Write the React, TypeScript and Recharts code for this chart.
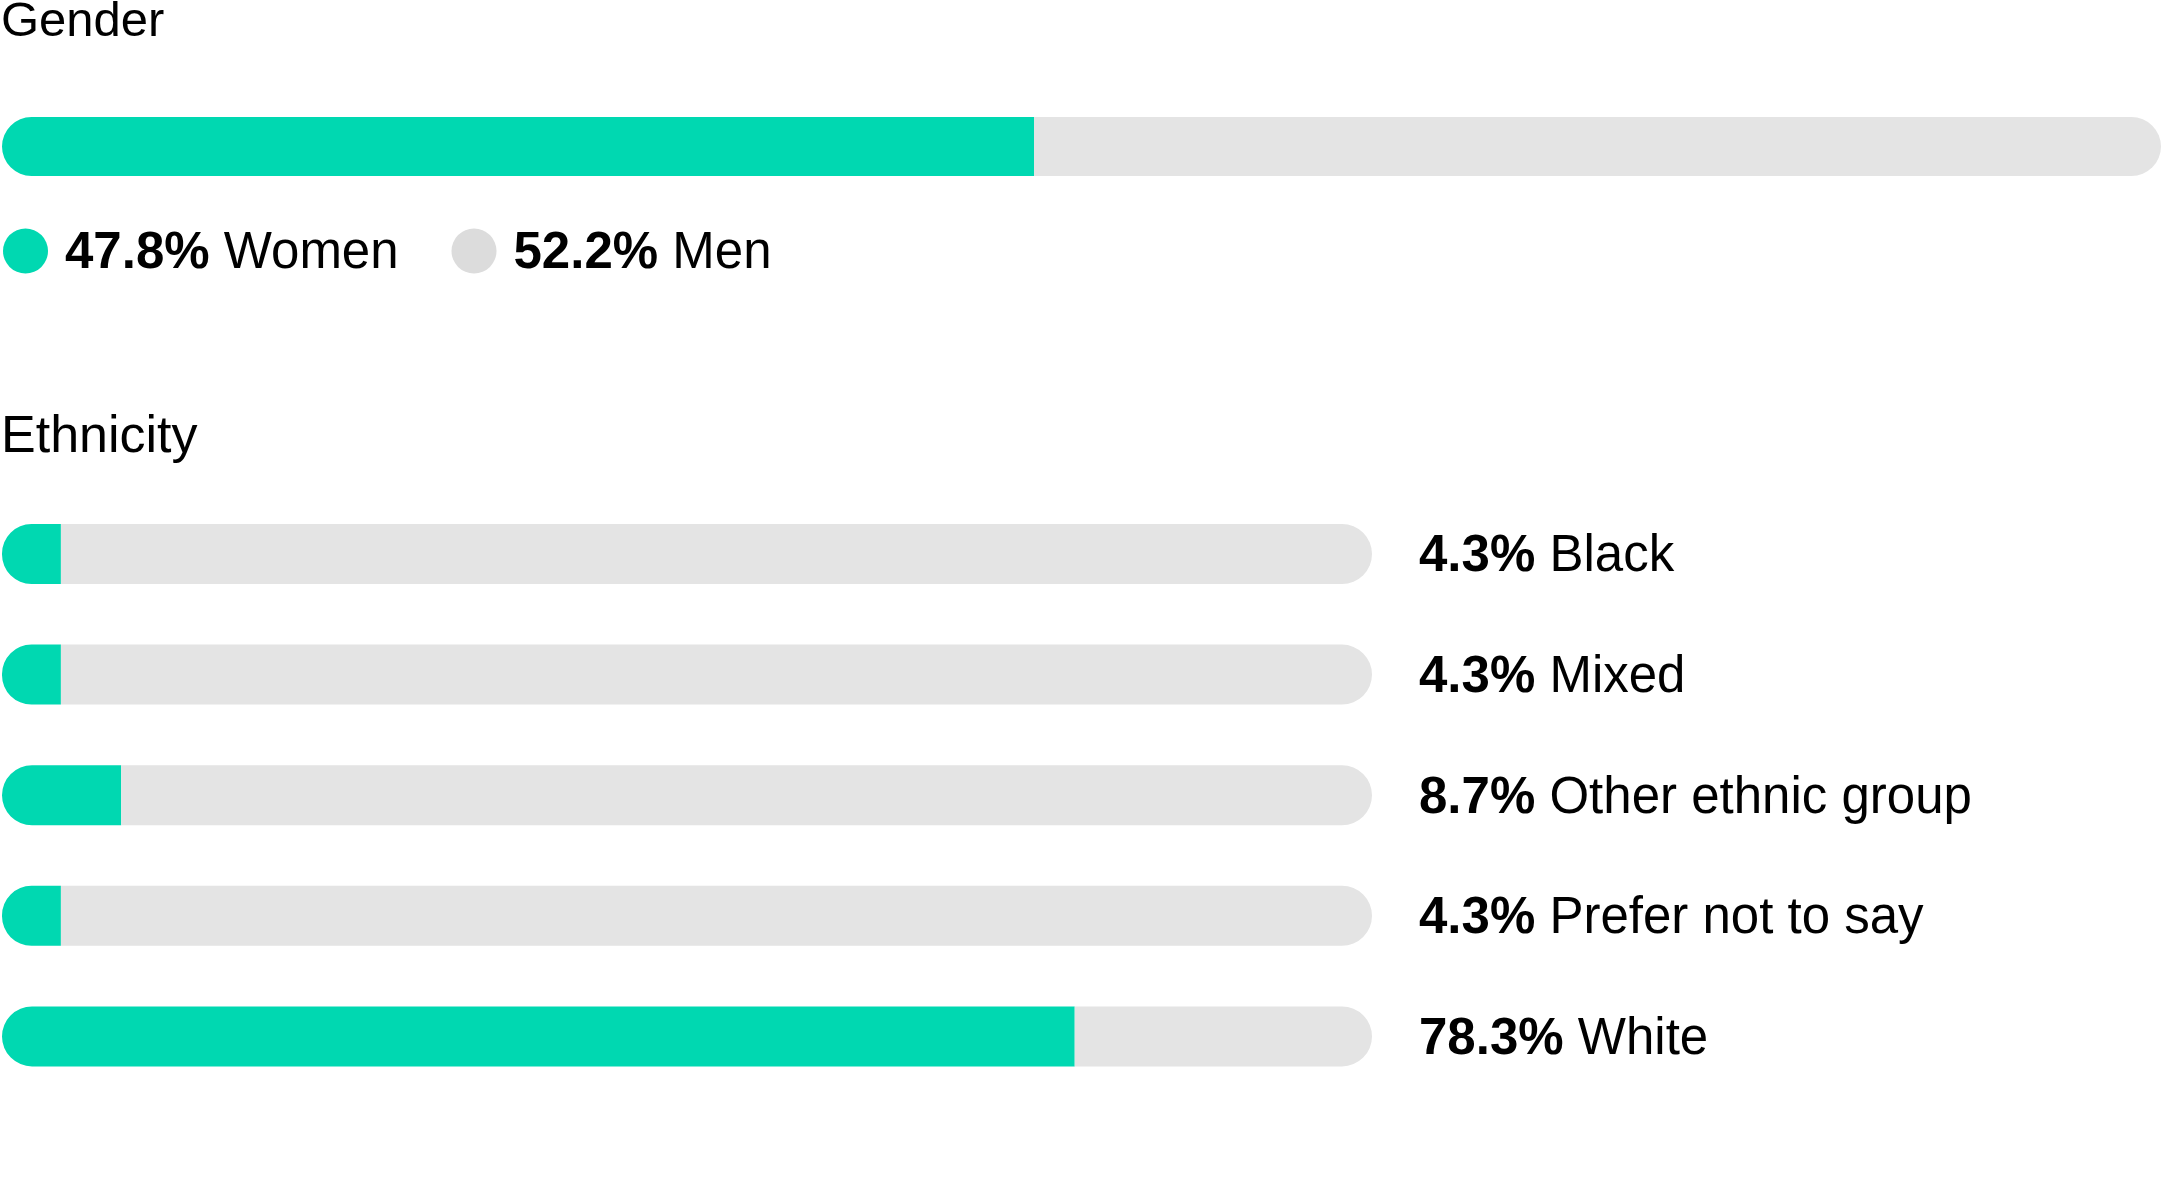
import { BarChart, Bar, XAxis, YAxis } from 'recharts';

const genderNames = ['Women', 'Men'];
const genderValues = [47.8, 52.2];

const ethnicGroups = ['Black', 'Mixed', 'Other ethnic group', 'Prefer not to say', 'White'];
const ethnicValues = [4.3, 4.3, 8.7, 4.3, 78.3];

const GREEN = '#00D8B1';
const GRAY = '#E4E4E4';
const DOT_GRAY = '#DCDCDC';
const FONT = '"Liberation Sans", Arial, sans-serif';

const genderData = [{ name: 'Gender', women: genderValues[0], men: genderValues[1] }];
const ethnicData = ethnicGroups.map((g, i) => ({ name: g, value: ethnicValues[i], rest: 100 - ethnicValues[i] }));

function EthnicTick(props: any) {
  const { x, y, payload } = props;
  const v = ethnicValues[payload.index];
  return (
    <text x={x + 47} y={y + 17} fontFamily={FONT} fontSize={51} fill="#000" textAnchor="start">
      <tspan fontWeight={700}>{v}%</tspan>
      <tspan> {payload.value}</tspan>
    </text>
  );
}

export default function App() {
  const legendPos = [25.5, 474];
  return (
    <div
      style={{
        position: 'absolute',
        left: 0,
        top: 0,
        width: 2162,
        height: 1187,
        background: '#fff',
        fontFamily: FONT,
        overflow: 'hidden',
      }}
    >
      <svg width={2162} height={1187} style={{ position: 'absolute', left: 0, top: 0 }}>
        <text x={1} y={36} fontSize={49} fontFamily={FONT} fill="#000">Gender</text>
        <text x={1} y={452} fontSize={52} fontFamily={FONT} fill="#000">Ethnicity</text>
        {genderNames.map((n, i) => (
          <g key={n}>
            <circle cx={legendPos[i]} cy={251} r={22.5} fill={i === 0 ? GREEN : DOT_GRAY} />
            <text x={legendPos[i] + 39.5} y={268} fontSize={51} fontFamily={FONT} fill="#000">
              <tspan fontWeight={700}>{genderValues[i]}%</tspan>
              <tspan> {n}</tspan>
            </text>
          </g>
        ))}
      </svg>

      <div style={{ position: 'absolute', left: 0, top: 117 }}>
        <BarChart
          width={2162}
          height={59}
          data={genderData}
          layout="vertical"
          margin={{ top: 0, right: 1, bottom: 0, left: 2 }}
          barCategoryGap={0}
        >
          <XAxis type="number" domain={[0, 100]} hide />
          <YAxis type="category" dataKey="name" hide />
          <Bar dataKey="women" stackId="g" fill={GREEN} radius={[30, 0, 0, 30]} isAnimationActive={false} />
          <Bar dataKey="men" stackId="g" fill={GRAY} radius={[0, 30, 30, 0]} isAnimationActive={false} />
        </BarChart>
      </div>

      <div style={{ position: 'absolute', left: 0, top: 494 }}>
        <BarChart
          width={2162}
          height={603}
          data={ethnicData}
          layout="vertical"
          margin={{ top: 0, right: 0, bottom: 0, left: 2 }}
          barSize={60}
        >
          <XAxis type="number" domain={[0, 100]} hide />
          <YAxis
            type="category"
            dataKey="name"
            orientation="right"
            width={790}
            axisLine={false}
            tickLine={false}
            tickSize={0}
            tickMargin={0}
            tick={<EthnicTick />}
          />
          <Bar dataKey="value" stackId="e" fill={GREEN} radius={[30, 0, 0, 30]} isAnimationActive={false} />
          <Bar dataKey="rest" stackId="e" fill={GRAY} radius={[0, 30, 30, 0]} isAnimationActive={false} />
        </BarChart>
      </div>
    </div>
  );
}
